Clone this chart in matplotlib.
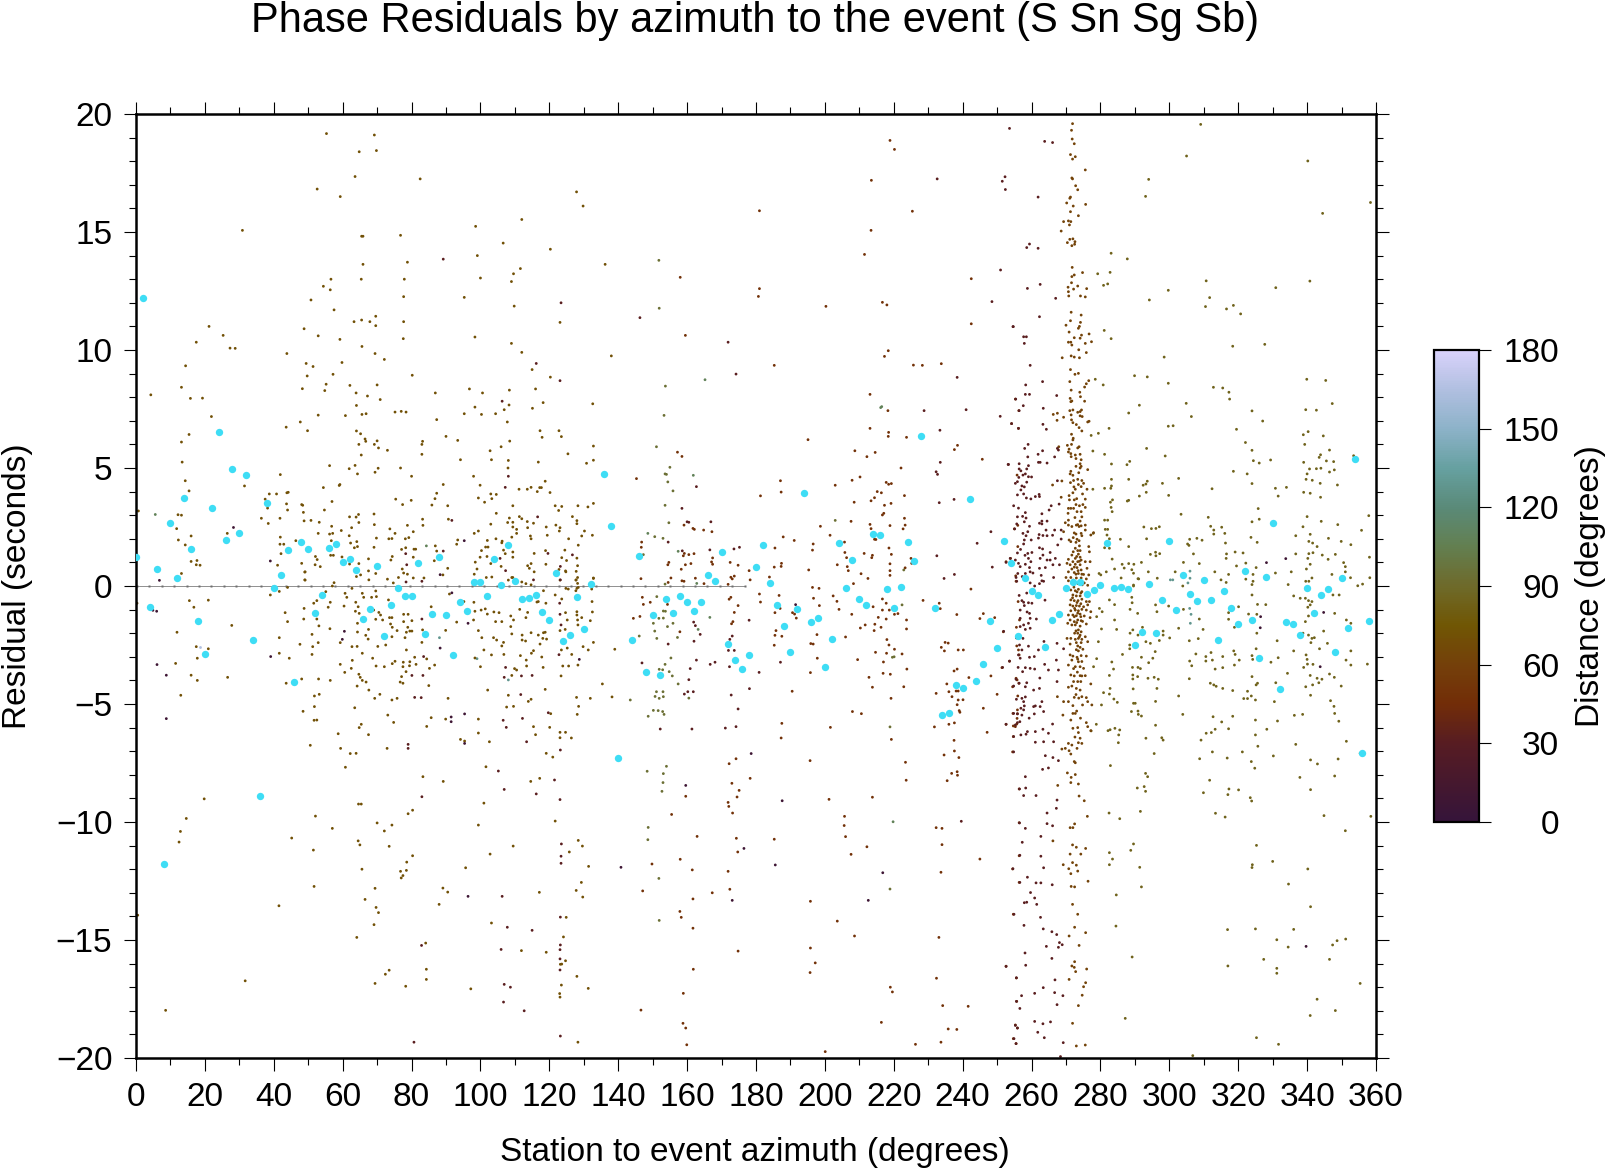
import numpy as np
from matplotlib import pyplot as plt
from matplotlib import colors
from matplotlib.cm import ScalarMappable

plt.rcParams['font.family'] = ['Liberation Sans', 'DejaVu Sans']

# cyan points, one per 2 degree azimuth bin
bin_az = [0,2,4,6,8,10,12,14,16,18,20,22,24,26,28,30,32,34,36,38,40,42,44,46,48,50,52,54,56,58,
    60,62,64,66,68,70,72,74,76,78,80,82,84,86,88,90,92,94,96,98,100,102,104,106,108,110,112,114,116,118,
    120,122,124,126,128,130,132,136,138,140,144,146,148,150,152,154,156,158,160,162,164,166,168,170,172,174,176,178,
    180,182,184,186,188,190,192,194,196,198,200,202,204,206,208,210,212,214,216,218,220,222,224,226,228,232,234,236,238,
    240,242,244,246,248,250,252,254,256,258,260,262,264,266,268,270,272,274,276,278,280,282,284,286,288,290,292,294,296,298,
    300,302,304,306,308,310,312,314,316,318,320,322,324,326,328,330,332,334,336,338,340,342,344,346,348,350,352,354,356,358]
bin_res = [1.24,12.19,-0.9,0.71,-11.79,2.68,0.35,3.74,1.58,-1.47,-2.9,3.3,6.51,1.93,4.96,2.26,4.72,-2.29,-8.88,3.51,-0.1,0.46,1.51,-4.05,1.85,1.55,-1.13,-0.37,1.6,1.77,
    1.0,1.13,0.69,-1.38,-0.99,0.85,-2.13,-0.82,-0.1,-0.42,-0.41,0.99,-2.02,-1.2,1.24,-1.21,-2.94,-0.66,-1.07,0.18,0.15,-0.44,1.14,0.04,1.75,0.2,-0.54,-0.52,-0.37,-1.12,
    -1.43,0.56,-2.33,-2.09,-0.45,-1.84,0.07,4.76,2.53,-7.3,-2.29,1.27,-3.63,-1.23,-3.76,-0.56,-1.13,-0.44,-0.68,-1.05,-0.68,0.48,0.23,1.43,-2.47,-3.12,-3.5,-2.91,
    0.79,1.72,0.14,-0.79,-1.71,-2.81,-0.99,3.95,-1.51,-1.37,-3.45,-2.23,1.84,-0.07,1.12,-0.55,-0.81,2.2,2.18,-0.14,-0.92,-0.06,1.85,1.07,6.34,-0.92,-5.45,-5.4,-4.18,
    -4.31,3.67,-4.04,-3.31,-1.5,-2.61,1.89,0.97,-2.13,0.35,-0.2,-0.37,-2.58,-1.43,-1.17,-0.08,0.16,0.17,-0.35,-0.17,0.03,1.81,-0.1,-0.04,-0.11,-2.51,-1.95,0.07,-1.98,-0.58,
    1.92,-1.03,0.48,-0.32,-0.65,0.24,-0.58,-2.27,-0.23,-0.95,-1.62,0.62,-1.42,-3.04,0.4,2.68,-4.38,-1.51,-1.6,-2.06,-0.1,-1.13,-0.37,-0.11,-2.81,0.32,-1.79,5.37,-7.09,-1.47]

# single picks (azimuth, residual), grouped by roughly the same distance
pts_purple = [(28.3,2.48),(6.8,0.24),(4.9,-1.03),(6,-1.07),(6.1,-3.33),(8.8,-3.78),(8.8,-5.62),(39,1.06),(39.1,-2.99),(60.5,-1.92),(59.9,-2.26),(88.3,0.48),(91.7,-0.29),(88.3,-2.63),(91.5,-5.55),(91.5,-5.75),(95.4,-5.42),(95.4,-6.67),(95.3,1.92),(96.4,-1.58),(96.4,-13.15),(128.7,-3.11),(191.5,-0.79),(140.8,-11.92),(159.6,-8.45),(173.1,-13.32),(176.5,-11.12),(178.6,-7.1),(185.6,-11.82),(187.6,-9.1),(212.6,-13.32),(216.8,-12.15),(333.8,1.16),(328.2,0.99),(326.5,-1.3),(326.4,-1.77),(344.8,-1.12),(343.8,-3.42),(339.7,-15.27)]

pts_red = [(89.2,13.85),(123.4,12),(116.2,9.43),(123.1,8.7),(106.3,7.83),(108.1,4.65),(107.2,4.18),(91.7,2.78),(116.6,2.93),(80.9,-4.72),(82.8,-4.73),(79,-6.71),(79,-6.88),(105.2,-7.84),(83,-8.93),(106.9,-8.62),(116.2,-8.81),(121.5,-8.22),(123.1,-9.05),(123.5,-10.93),(123.4,-11.45),(123.4,-11.75),(106.3,-13.15),(107.8,-14.46),(115,-14.59),(123.2,-14.03),(82.9,-15.23),(123.2,-15.21),(123.1,-15.41),(106,-15.4),(123.1,-15.8),(123.1,-16.27),(106.9,-16.88),(108.7,-17),(106.7,-17.63),(112.7,-18),(123.2,-19.07),(80.7,-19.33),(123.2,-6.95),(105.7,1.17),(107.3,0.65),(89.2,1.48),(83,0.2),(78.4,0.17),(78.3,1.37),(78.6,0.9),(119.6,1.38),(126.7,1.32),(123.2,0.83),(123.2,0.26),(115.4,0.26),(83,-1.4),(83.5,-2.99),(83.3,-3.79),(80.1,-3.79),(107.3,-3.45),(106.9,-3.87),(111.9,-3.81),(111.7,-4.6),(115,-3.79),(106.6,-5.69),(107.5,-5.99),(112.2,-5.61),(113.4,-6.6),(119.7,-5.37),(123,-0.73),(123.1,-1.2),(123.4,-1.65),(122.8,-2.91),
    (253.6,19.39),(232.6,17.25),(252.3,17.34),(251.5,17.15),(252.4,16.8),(251,13.39),(248.5,12.05),(254.6,10.99),(146.3,11.37),(171.9,10.33),(174.2,8.98),(238.4,8.84),(228.8,7.43),(241,7.47),(250.9,7.19),(233.4,6.6),(233.5,5.24),(232.3,4.84),(232.7,4.73),(253.2,5.15),(162.7,4.21),(237.5,3.67),(233.2,3.53),(158.5,3.29),(160,2.72),(160.5,2.7),(166.9,2.72),(248.2,2.3),(154.5,1.86),(244.2,1.81),(175.2,1.64),(173.6,1.57),(166.6,1.53),(158.6,1.49),(232.5,1.28),(237.6,0.49),(234.6,0.32),(248.6,0.8),(146.9,-3.26),(154.5,-2.46),(152.2,-6.06),(161.4,-6.06),(171.1,-6.02),(174.2,-5.96),(174.8,-5.21),(172.8,-4.62),(178.1,-4.35),(161.8,-4.48),(159.2,-4.58),(160.2,-4.48),(160.5,-3.97),(160.9,-3.5),(162.7,-3.14),(166.7,-3.32),(168.1,-3.23),(172.3,-3.42),(173.7,-2.73),(172,-2.73),(173.1,-2.12),(172.4,-2.26),(162,-2.34),(163.8,-2.05),(162.4,-1.68),(161.9,-1.53),(178,-1.45),(187.1,-3.23),(180.9,-3.66),(239.6,-9.97),
    (263.8,18.84),(266.1,18.79),(261.9,16.48),(258.6,14.34),(259.4,14.49),(261.9,14.31),(262.5,12.78),(258.8,12.61),(267,12.19),(262.3,11.41),(254.7,10.99),(257.7,10.56),(258.5,10.56),(257.9,10.28),(259.6,9.35),(263.2,8.66),(258.3,8.52),(258.2,8.12),(259.4,8.12),(255.4,7.92),(267.3,8.07),(257.6,7.64),(256.4,7.43),(263.4,7.53),(254.2,6.88),(256.2,6.68),(263.3,6.85),(264.3,6.64),(259,6),(258,5.83),(263.2,5.73),(261.9,5.58),(258.9,5.47),(253.3,5.15),(256.4,5.18),(262,5.24),(262.5,5.24),(264.5,5.21),(266.7,5.47),(267.5,5.83),(267.8,5.76),(259.1,5.1),(256.4,4.96),(256.9,4.88),(258.6,4.96),(258.2,4.75),(257.5,4.7),(259.1,4.63),(260,4.62),(255.3,4.35),(255.9,4.42),(257.2,4.24),(258.6,4.4),(267.5,4.46),(256.9,4.07),(255.9,3.86),(257.7,3.9),(258.5,3.73),(259.8,3.69),(261.1,3.79),(262.2,3.88),(262.3,3.79),(254.8,3.4),(265.7,3.4),(265.1,3.22),(268,3.47),(258.2,3.11),(263,3.06),(255.9,2.93),(258.4,2.88),(257.9,2.72),(263,2.75),(262.3,2.66),(264.5,2.75),(255.7,2.63),(259.4,2.53),(255.1,2.42),(263,2.63),(264.2,2.37),(266.7,2.37),(268.6,2.37),(257.5,2.23),(259.9,1.95),(258.4,2.13),(262.2,2.18),(263.3,2.14),(264.5,2.13),(266.1,2.15),(257.9,1.95),(257.7,1.78),(262,2.03),(268.6,1.99),(267.6,1.74),(262.3,1.62),(263.2,1.57),(260.1,1.42),(258.9,1.38),(265.4,1.42),(263.3,1.31),(253.8,1.17),(252.6,1),(255.3,1.1),(256.2,0.96),(259.1,1.17),(259.8,1.03),(258.2,0.92),(266.9,1.17),(265.4,1.1),(264.5,1.1),(262.5,1.17),(256.7,0.82),(259.4,0.78),(262.3,0.75),(264,0.78),(266.2,0.9),(268.1,0.9),(256,0.53),(259.6,0.6),(258.2,0.53),(266.4,0.36),(255.5,0.36),(255.7,0.2),(259.6,0.13),(263,0.22),(263.5,0.2),(260.9,0),(262.3,0.1),
    (257.2,-0.62),(257.7,-0.69),(259.1,-0.71),(260.1,-0.73),(256.7,-1.02),(257.9,-0.83),(259.4,-1.16),(259.6,-1.37),(256.7,-1.37),(259.1,-1.58),(257.7,-1.65),(256.7,-1.72),(251.9,-1.92),(258.2,-1.84),(259.6,-1.79),(257.5,-2.22),(256.5,-2.5),(257.2,-2.71),(256.2,-2.92),(256.7,-3.06),(253.6,-3.18),(251.6,-3.45),(259.4,-3.02),(260.8,-2.99),(262,-2.71),(267.2,-3.14),(269.3,-2.66),(267.4,-2.43),(258.2,-3.46),(259.6,-3.49),(260.9,-3.52),(257.4,-3.63),(263.8,-3.32),(264.9,-3.56),(267.8,-3.56),(255.5,-3.95),(256.4,-4.12),(258.6,-4.1),(254.8,-4.24),(258.2,-4.27),(262.3,-4.34),(267.4,-4.05),(260.6,-4.41),(257.2,-4.76),(257.7,-4.9),(257.9,-5.08),(256.9,-5.18),(263,-4.9),(262.5,-5.11),(260.6,-5.11),(261.1,-5.08),(254.8,-5.4),(255.9,-5.42),(257.2,-5.47),(257.7,-5.25),(260.8,-5.42),(263.5,-5.32),(252.6,-5.86),(255.3,-5.89),(255.9,-5.79),(254.8,-6.38),(256.9,-6.31),(258.8,-6.17),(258.4,-6.28),(261.1,-6.17),(263.3,-6.07),(266.1,-5.85),(264.9,-6.24),(266.4,-6.6),(261.1,-6.62),(263.5,-6.6),(254.8,-7.03),(264,-7.19),(266.2,-7.27),(267.8,-7.4),(263.2,-7.77),(264.9,-7.71),(258.2,-8.08),(256.5,-8.6),(258.3,-8.56),(257.7,-8.88),(261.3,-8.88),(267.4,-9.07),(267.2,-9.42),(264.5,-9.62),(256.5,-10.04),(258.2,-10.27),(264.5,-10.07),(266.1,-10.16),(262.7,-10.61),(257.3,-10.86),(256.6,-11.41),(262.7,-11.45),(254.6,-11.98),(263.5,-11.94),(258.8,-12.34),(256.6,-12.56),(261.3,-12.58),(262.7,-12.58),(266,-12.66),(259.7,-12.99),(260.9,-13.22),(257.9,-13.42),(258.6,-13.4),(261.5,-13.49),(254.9,-13.91),(262.6,-14.04),(257.8,-14.38),(263.4,-14.53),(265.9,-14.65),(267.3,-14.77),(268.1,-15.11),(264.3,-15.27),(267.8,-15.31),(268.9,-15.2),(258.1,-15.55),(265.9,-15.78),(252.6,-16.12),(258.3,-16.07),(255.6,-16.6),(266.8,-16.69),(263.4,-17.02),(260.9,-17.26),(257.1,-17.36),(266.7,-17.23),(269.1,-17.36),(255.6,-17.6),(256.6,-17.9),(267.4,-17.74),(260.9,-18.45),(263.3,-18.55),(265.5,-18.47),(255.3,-18.62),(255.9,-18.73),(261.8,-18.91),(254.9,-19.18),(263.7,-19.14),(255.5,-19.39),(269.2,-19.35),(268.4,-19.94),
    (256.3,4.6),(257.9,4.2),(256.2,3.3),(257.4,2.95),(258.9,2.3),(256.8,1.55),(258.1,1.3),(255.9,1.4),(257.3,0.4),(260.4,0.55),(258.6,-0.3),(256.4,-0.4),(258.7,-1.1),(255.6,-2.2),(256.1,-3.45),(259.1,-2.55),(258.2,-4.7),(255.6,-4.8),(256.6,-5.75),(259.3,-5.6),(262.4,-3.9),(263.6,-2.35),(261.4,-1.4),(263.9,-0.6),(262.8,0.45)]

pts_rust = [(218.9,18.88),(220.2,18.5),(213.5,17.19),(181,15.9),(225.4,15.88),(213.4,15.07),(211.5,14.05),(158,13.08),(242.5,13.02),(181,12.6),(180.7,12.27),(200.3,11.85),(216.7,12.02),(218,11.91),(242.5,11.11),(159.5,10.62),(218.4,9.97),(217.3,9.73),(185.3,9.35),(225.7,9.36),(228.3,9.35),(233.8,9.42),(213.1,8.12),(218.3,7.43),(255.3,7.92),(256.3,7.43),(254.2,6.88),(256.2,6.68),(213.1,6.68),(218.5,6.51),(218.4,6.34),(223.7,6.3),(238.5,5.96),(237.6,5.78),(195.1,6.2),(157.2,5.67),(158.5,5.49),(208.7,5.73),(214.6,5.66),(212.2,5.48),(245.7,5.37),(222.1,5),(255.8,4.7),(210.2,4.62),(207.9,4.48),(187.1,4.46),(145.3,4.55),(217.8,4.39),(219.3,4.34),(218.5,4.31),(187.3,3.98),(203,4.27),(215.2,4),(216.4,3.95),(223.1,3.83),(181.3,3.82),(214.4,3.74),(213.4,3.61),(208.5,3.55),(219.2,3.5),(217.3,3.42),(217.1,3.08),(216.7,3.01),(223.1,2.87),(207.6,2.74),(159.1,2.58),(213.1,2.61),(223.3,2.58),(198.7,2.53),(161.7,2.44),(162.1,2.4),(164.8,2.37),(167.2,2.3),(213.4,2.43),(218.9,2.56),(222.7,2.42),(255,2.42),(256,2.57),(146.8,1.86),(201.5,2.15),(187.9,2.08),(191.1,1.93),(214.4,1.98),(214.8,1.97),(205.7,1.86),(196.6,1.78),(146.7,1.64),(185.5,1.61),(218.6,1.61),(196.4,1.52),(159.2,1.38),(160.5,1.33),(162,1.37),(158.9,1.28),(205.8,1.42),(211.4,1.38),(213.8,1.3),(213.6,1.2),(219.3,1.34),(206.3,1.2),(167.4,1.19),(154.7,1),(154.4,0.9),(159.5,0.9),(161.1,0.95),(167.1,1.02),(167.4,0.92),(172.5,1),(174.8,0.88),(187.4,0.96),(187.3,0.83),(185.3,0.8),(203.6,0.9),(206.5,0.82),(206.8,0.65),(218.9,0.94),(225,1.17),(225.2,0.96),(223.3,0.77),(218.9,0.65),(218.9,0.45),(252.6,1.03),(253.9,1.17),(255.4,0.43),(255.5,0.2),(256,1.67),(158.3,0.71),(162.4,0.33),(155.3,0.34),(146.6,0.31),(154.5,0.15),(158.5,0.22),(159.1,0.2),(164.9,0.1),(171.9,0.07),(173.1,0.3),(173.7,0.42),(172.7,0.37),(178.3,0.26),(178,0.65),(183.9,0.38),(195.3,0.68),(210.5,0.52),(212.5,0.32),(208.3,0.1),(242.4,-0.13),
    (147,-0.48),(147.3,-0.78),(146.3,-1.29),(144.4,-1.37),(149.3,-0.69),(154.3,-0.78),(157.9,-1.94),(173.3,-1.51),(172.9,-1.6),(173.7,-1.12),(174.8,-0.83),(172.2,-0.56),(172.7,-0.48),(181,-0.34),(181.3,-0.68),(186.7,-0.4),(185.5,-1.13),(187,-0.95),(190.6,-1.13),(191.2,-1.19),(191.7,-1.36),(185.8,-1.89),(185.5,-2.09),(187.5,-2.13),(185.3,-2.51),(190.5,-4.46),(187.5,-5.82),(187.3,-6.44),(195.9,-2.44),(196.6,-2.46),(197.7,-2.06),(198.4,-0.83),(196.7,-0.52),(196.4,-0.06),(198.3,-0.1),(202.4,-0.42),(203.5,-0.65),(204.1,-0.99),(207.8,-1.2),(206,-2.16),(210.3,-1.78),(211.7,-1.65),(214.3,-1.89),(214.5,-1.62),(216.3,-1.75),(215.5,-1.33),(217.8,-1.4),(218.7,-1.02),(216.7,-1.02),(214,-0.88),(216.7,-0.55),(217.8,-0.73),(220.2,-1.2),(221.2,-1.17),(223.7,-1.44),(223.7,-1.82),(218,-2.27),(218.6,-2.5),(220.2,-2.68),(214.7,-2.81),(217.9,-2.85),(222.4,-2.88),(209.5,-3.12),(217,-3.22),(223.8,-3.52),(212.8,-3.87),(216.9,-3.7),(219,-3.74),(213.8,-4.29),(222.9,-4.27),(219.2,-4.76),(208,-5.32),(210.6,-5.41),(201.6,-5.99),(219.3,-6.5),(195.7,-7.4),(197.8,-3.06),(195.8,-3.67),(223.4,-7.47),(223.6,-8.23),(201.2,-9.04),(213.8,-8.95),(205.7,-9.76),(205.6,-10.15),(206,-10.62),(212.2,-11.05),(207.6,-11.37),(195.8,-13.36),(203.6,-14.2),(208.6,-14.83),(195.8,-15.34),(197.2,-15.97),(195.7,-16.38),(219,-17),(219.6,-17.2),(216.4,-18.49),(200.1,-19.73),(226.3,-19.42),
    (159.6,-8.91),(155.5,-9.68),(162.9,-10.61),(158,-11.58),(149.8,-11.78),(161.5,-12.03),(147.1,-12.92),(161.7,-13.26),(157.9,-13.79),(158.3,-14.04),(161.7,-14.5),(161.8,-16.24),(158.9,-17.26),(146.6,-17.97),(158.8,-18.53),(159.6,-18.73),(159.9,-19.44),(174.8,-15.47),(167.3,-13),(172.4,-12.85),(171.9,-12.09),(174.7,-11.27),(174.3,-10.69),(173.2,-9.62),(172.1,-9.34),(171.9,-9.17),(174.5,-8.94),(175.1,-8.66),(173,-8.36),(178.3,-8.15),(172.2,-7.53),(174.2,-7.32),(185.3,-10.73),(232.3,-10.24),(234,-10.27),(234,-10.96),(233.7,-12.13),(233.1,-14.89),(245,-11.57),(254.5,-11.99),(256.4,-11.43),(256.4,-10.03),(256.4,-12.56),(254.7,-13.91),(252.6,-16.11),(232.4,-16.62),(255.6,-16.61),(234.2,-17.78),(241.6,-17.81),(255.7,-17.6),(235.8,-18.77),(238.3,-18.79),(233.7,-19.33),(255.3,-18.6),(255.9,-18.73),(254.7,-19.18),(255.5,-19.39),
    (233.8,-2.6),(234.7,-2.75),(234.9,-2.39),(235.8,-2.42),(238.7,-2.71),(240.2,-2.71),(237.5,-3.6),(238.4,-3.52),(241.8,-3.88),(235.4,-4.15),(232.3,-4.55),(236,-4.48),(238.1,-4.45),(238.7,-4.45),(236.9,-4.69),(238.7,-4.83),(240.1,-4.82),(238.4,-5.03),(239,-5.28),(239.2,-5.35),(231.8,-5.97),(236,-5.86),(237.6,-5.8),(246,-5.18),(250,-4.59),(248.2,-3.81),(253.6,-3.19),(251.4,-3.46),(247.1,-6.2),(252.6,-5.86),(254.6,-5.4),(255.9,-5.25),(255.9,-5.41),(255.8,-5.61),(254.7,-5.93),(255.3,-5.96),(254.7,-6.38),(254.5,-7.03),(255.7,-5.85),(237.5,-6.54),(237.6,-6.99),(238.9,-7.27),(234.6,-7.16),(236.8,-7.94),(238.4,-7.87),(238.5,-8.02),(235.5,-8.25),(256.4,-8.6),(238.3,-1.21),(245,-1.38),(246,-1.17),(249.3,-1.34),(251.8,-1.94),(228.5,-0.61),(233.2,-0.73),(233.5,-0.96),(254.5,-4.27),(255.5,-3.91),(255.8,-3.98),(256.3,-4.12),(256,-4.66),(255.6,-1.75),(256.5,-1.44),(256.1,-0.66),(255.7,-2.54),(256.2,-2.71),(256.4,-2.92)]

pts_brown = [(271.9,19.59),(271.6,19.31),(271.8,18.94),(272.4,18.74),(271.3,18.28),(272.7,18.19),(271.9,18.09),(275.6,17.63),(271.7,17.29),(271.9,17.25),(272.8,16.96),(273.4,16.79),(271.3,16.48),(271.1,16.43),(270.2,16.23),(272.1,16.1),(275.7,16.17),(271.3,15.86),(273.6,15.69),(269.3,15.44),(270.7,15.47),(271.4,15.44),(271,15.3),(268.6,15.04),(271.1,14.69),(272,14.71),(272.6,14.59),(270.4,14.55),(271.7,14.42),(272.5,14.48),(271.8,13.5),(274.8,13.28),(272.4,13.18),(271.7,13.11),(271.6,12.85),(270.6,12.66),(273.4,12.71),(272.2,12.58),(276,12.6),(270.7,12.47),(274.2,12.29),(270.8,12.29),(275.6,12.25),(271.5,11.6),(274.4,11.48),(271.3,11.24),(274.2,11.17),(273.9,11),(273.6,10.92),(270,11.05),(270.9,10.76),(276.7,10.68),(274.1,10.5),(274.5,10.63),(272.4,10.52),(270.7,10.33),(275.6,10.28),(277.4,10.35),(271.7,10.21),(271.4,10.33),(273.7,10.01),(275.9,9.89),(268.9,9.67),(271.5,9.75),(272.4,9.7),(273.9,9.67),(271.3,9.17),(273.6,9.01),(272.6,8.97),(271.1,8.66),(276.6,8.7),(275.9,8.57),(275.4,8.43),(271.5,8.3),(274,8.21),(274.2,8.02),(271.2,7.95),(271.7,7.84),(275.4,7.83),(271.4,7.81),(271.1,7.43),(273.4,7.36),(274.1,7.39),(274.5,7.46),(266.3,7.27),(267.5,7.32),(269.3,7.15),(267.4,7.02),(271.5,7.25),(272,7.46),(274.1,7.21),(274.7,7.18),(271.6,7.04),(272,6.92),(273,6.84),(273.8,6.71),(276.3,6.95),(276.7,6.98),(274.6,6.57),(271.6,6.43),(272.1,6.26),(272,6.19),(271.6,6),(270.4,5.96),(273.8,5.9),(273.4,5.85),(270.9,5.8),(267.9,5.9),(270.7,5.68),(271.4,5.61),(274.1,5.58),(272.7,5.55),(274.4,5.35),(274.1,5.18),(271.5,5.48),(272.9,5.07),(274.4,5.07),(271.4,4.86),(276.3,4.93),(274.1,5),(271.2,4.75),(272,4.69),(273.4,4.52),(274.6,4.47),(272.2,4.47),(271.3,4.38),(268.8,4.45),(266.1,4.28),(275.1,4.35),(272.7,4.1),(276.1,4.1),(274.4,4.21),(273.6,4.3),(272,3.95),(274.8,3.9),(270.9,3.83),(268.6,3.76),(271,3.65),(272.4,3.65),(275.6,3.68),(274.9,3.45),(270.7,3.29),(271.4,3.29),(270.6,3.08),(272.2,3.29),(273.2,3.15),(274.4,3.15),(275.6,3.33),(270.7,2.79),(274.6,2.93),(269.8,2.68),(271.7,2.52),(273,2.58),(273.8,2.52),(274.4,2.55),(270.7,2.58),(269.3,2.3),(272.4,2.25),(275.6,2.58),(275.6,2.37),(274.4,2.23),(273.2,1.98),(270.9,1.95),(271.4,1.88),(273.8,1.92),(274.6,2.13),(277.2,2.16),(278,2.26),
    (272.7,1.6),(273.4,1.5),(274.1,1.5),(276.6,1.67),(276.8,1.45),(271.7,1.31),(273.6,1.35),(272.7,1.17),(274.1,1.22),(270.7,1.13),(272,1.03),(273.4,1.03),(274.4,1.1),(275.6,1.03),(277,1.03),(271.2,0.9),(272.7,0.92),(274.1,0.9),(270.3,0.96),(273.2,0.78),(271.7,0.72),(274.4,0.68),(276.1,0.75),(270.7,0.6),(272.4,0.57),(273.6,0.53),(275.1,0.49),(276.6,0.47),(271.4,0.36),(273,0.34),(274.4,0.34),(275.9,0.3),(270,0.36),(270.7,0.22),(273.8,0.2),(272.7,0.13),(275.3,0.13),(271.7,0.11),(276.3,0.03),
    (271.4,-0.17),(272.7,-0.2),(273.6,-0.14),(274.6,-0.24),(272,-0.38),(273,-0.42),(274.1,-0.42),(271.4,-0.59),(272.4,-0.62),(273.5,-0.62),(274.6,-0.56),(275.9,-0.66),(276.8,-0.66),(271.2,-0.8),(272,-0.85),(273,-0.83),(273.9,-0.85),(275.1,-0.88),(276.3,-0.8),(271.4,-1.05),(272.7,-1.02),(273.6,-1.05),(274.6,-0.99),(275.9,-1.02),(277.2,-1.09),(270.7,-1.23),(272,-1.23),(273,-1.26),(274.1,-1.19),(275.3,-1.27),(277,-1.34),(271.2,-1.44),(272.4,-1.51),(273.4,-1.44),(274.4,-1.47),(275.9,-1.61),(270.5,-1.58),(271.7,-1.65),(272.7,-1.65),(273.6,-1.86),(274.4,-1.94),(273.4,-2),(274.1,-2.08),(270.3,-2.22),(271.4,-2.22),(272.7,-2.26),(273.6,-2.22),(274.6,-2.26),(275.6,-2.15),(273.4,-2.54),(274.1,-2.6),(274.9,-2.68),(273.6,-2.75),(271.2,-2.46),(276.3,-2.36),(271.2,-2.92),(272,-2.97),(273.2,-3.02),(275.9,-2.97),(273.6,-3.21),(271.7,-3.14),(270.7,-3.35),(272.7,-3.42),(274.1,-3.42),(275.1,-3.49),(271.4,-3.77),(272.4,-3.81),(274.6,-3.81),(275.6,-3.8),(272.2,-4.05),(273.4,-4.05),(274.3,-4.05),(270.7,-4.29),(271.7,-4.24),(273,-4.34),(274.1,-4.41),(277.2,-4.15),(272.4,-4.72),(274.6,-4.69),(275.9,-4.73),(267.5,-4.69),(269.3,-4.9),(270.7,-4.9),(276.3,-4.9),(272,-5.07),(277.5,-5.04),(274.8,-5.04),(269.1,-5.47),(272,-5.4),(272.7,-5.4),(271.4,-5.68),(275.9,-5.79),(276.3,-5.96),(272,-6.03),(277.2,-6.13),(273.6,-6.21),(274.1,-6.45),(270.7,-6.67),(271.7,-6.74),(273.6,-6.64),(274.6,-6.67),(268.8,-6.91),(270.9,-6.98),(273.2,-6.88),(269.8,-6.88),(271.4,-7.12),(272.4,-7.44),(272.7,-7.49),(270.4,-7.92),(272.7,-7.99),(271.5,-8.11),(271.4,-8.33),(273.6,-8.39),(267.6,-8.45),(273.8,-8.9),(275.3,-9.1),(276.2,-9.76),(271.2,-10.24),(272,-10.24),(272.5,-10.08),(266.2,-10.8),(271.9,-10.97),(273,-11.07),(274.3,-11.36),(275.7,-11.12),(271.2,-11.36),(271.9,-11.72),(269.2,-11.81),(273,-11.83),(270.8,-11.98),(273.4,-12.08),(271.4,-12.19),(276.4,-12.51),(271.5,-12.73),(272.5,-12.75),(271.9,-13.49),(273.4,-13.91),(272.5,-14.46),(270.9,-14.83),(275.7,-14.69),(273.8,-15.23),(272.5,-15.92),(271.7,-16.1),(272.4,-16.16),(272.8,-16.34),(276,-16.23),(270.9,-16.67),(275.7,-16.81),(275.1,-16.98),(274.7,-17.34),(273.6,-17.78),(271.9,-18.53),(273,-19.49),(275.6,-19.45),
    (272.9,5.4),(273.7,4.8),(272.3,4.2),(273.1,3.7),(273.9,3.4),(272.6,2.9),(273.4,2.6),(272.1,2.05),(272.9,1.85),(273.9,1.7),(272.1,1.45),(273.1,1.25),(273.9,1.05),(272.4,0.8),(273.5,0.65),(274.6,0.5),(272.9,0.5),(272.1,0.25),(273.5,0.1),(274.7,0.05),(272.3,-0.05),(273.2,-0.25),(274.3,-0.3),(271.9,-0.5),(273.2,-0.7),(274.3,-0.75),(272.5,-0.95),(273.4,-1.15),(274.3,-1.3),(272.4,-1.3),(273.1,-1.55),(274.1,-1.7),(272.9,-1.9),(273.9,-2.15),(273,-2.4),(274.4,-2.4),(273,-2.7),(274.4,-2.95),(273.4,-3.1),(274.6,-3.2),(273.3,-3.65),(274.1,-3.8),(272.9,-4.6),(273.7,-4.75),(273.1,-5.3),(274.2,-5.6),(273.4,-6),(272.6,-6.4),(272.9,2.2),(274.1,2.75),(272.9,3.45),(272.5,-2),(274.8,-1.5),(272.2,-3.5)]

pts_umber = [(55.3,19.17),(69.2,19.11),(64.8,18.4),(69.8,18.45),(63.6,17.35),(82.5,17.25),(52.6,16.82),(59.3,16.5),(127.9,16.7),(129.8,16.1),(30.9,15.07),(112,15.53),(98.6,15.24),(65.5,14.82),(65.9,14.82),(76.8,14.86),(106.6,14.53),(120.3,14.27),(99.1,14),(78.8,13.72),(65.9,13.63),(136.2,13.63),(111.6,13.45),(109.6,13.23),(100,13.05),(65.4,13),(56.6,13),(77.9,13),(109,12.9),(54.4,12.7),(56.4,12.55),(77.7,12.26),(95.3,12.23),(50.8,12.12),(109.8,11.86),(57.5,11.7),(69.6,11.43),(63.3,11.2),(65.5,11.27),(67.9,11.2),(77.7,11.2),(123.1,11.17),(21.2,11),(69.6,11.03),(48.8,10.9),(25.3,10.62),(52.9,10.6),(59.2,10.45),(77.6,10.48),(98.4,10.55),(17.5,10.33),(109,10.28),(27.3,10.08),(28.8,10.07),(65.6,10.15),(112,9.9),(69.4,9.85),(138,9.75),(43.8,9.85),(72.1,9.6),(49.4,9.43),(59.8,9.47),(14.4,9.33),(51.4,9.3),(115,9.17),(57.2,8.97),(49.7,8.9),(80.2,8.93),(120.3,8.85),(70,8.52),(55.2,8.55),(62.1,8.5),(13.2,8.42),(48.3,8.36),(116,8.35),(96.8,8.35),(108.4,8.3),(54.8,8.28),(63.9,8.18),(86.9,8.18),(100.6,8.18),(4.3,8.1),(67.2,8.05),(15.8,7.95),(19.3,7.96),(70.9,7.9),(118.2,7.77),(132.6,7.72),(108.3,7.67),(64,7.65),(98.4,7.58),(115.1,7.53),(106.9,7.47),(75.2,7.37),(77,7.4),(78.4,7.37),(66.8,7.3),(65.6,7.27),(95.3,7.3),(100.3,7.27),(104.4,7.3),(52.9,7.24),(60.8,7.22),(21.9,7.18),(87.3,7.05),(107.8,6.95),(47.7,6.95),(43.6,6.73),(64,6.57),(49.8,6.58),(117.3,6.58),(122.8,6.58),(65.2,6.45),(90,6.34),(15.4,6.42),(117.9,6.3),(123.5,6.33),(66.5,6.23),(93.4,6.17),(66.7,6.13),(83.2,6.13),(70,6.15),(108.5,6.14),(13.2,6.1),(64.7,6),(83,6),(69.2,6),(70.4,5.85),(106,5.9),(132.8,5.93),(73,5.75),(102.8,5.73),(125.4,5.6),(65.4,5.55),(83,5.58),(94.2,5.35),(103.2,5.35),(108.1,5.32),(13.4,5.25),(116.8,5.25),(130.8,5.2),(132.8,5.33),(56.2,5.1),(63.6,5.11),(61.9,4.97),(70.3,4.99),(76.8,5),(108,5),(64.3,4.75),(69.4,4.82),(41.9,4.72),(80,4.65),(98,4.65),(14.3,4.46),(118.8,4.44),(59.2,4.3),(59,4.26),(99.9,4.27),(31.5,4.24),(89.2,4.3),(54.4,4.17),(111.2,4.1),(113.6,4.1),(114.7,4.18),(117.2,4.17),(117.7,4.17),(15.4,4.03),(116.5,4),(120.2,3.96),(38.7,3.9),(40.8,3.9),(43.8,3.95),(44.2,3.97),(87.3,3.93),(103,3.9),(104.6,3.88),(86.8,3.7),(75.4,3.68),(79.9,3.63),(99.4,3.73),(103.3,3.7),(101.2,3.55),(56.9,3.58),(37.5,3.68),(0.7,3.18),(43.7,3.48),(77.4,3.45),(85.9,3.43),(90.5,3.4),(109.4,3.4),(48.1,3.45),(48.4,3.42),(38.2,3.3),(44,3.22),(54.7,3.22),(121.7,3.4),(123.6,3.37),(122.7,3.2),(128.3,3.4),(131.2,3.35),(132.8,3.5),(104.6,3.08),(48.6,3.12),(69.1,3.05),(12.2,3.02),(13.2,3),(62,2.93),(63.9,2.92),(64.6,3.03),(36.4,2.87),(41.8,2.87),(83.2,2.83),(90.7,2.83),(108.4,2.88),(111.3,2.94),(112,2.85),(126.7,2.94),(128,2.77),(48.8,2.76),(50.8,2.78),(53.2,2.7),(38.4,2.65),(64.7,2.69),(69.2,2.6),(78.8,2.57),(83.3,2.57),(103,2.62),(107.9,2.69),(109.4,2.7),(113.6,2.73),(115.4,2.66),(128,2.64),(56.8,2.53),(62.6,2.47),(11.8,2.43),(109.4,2.5),(113.7,2.47),(119.1,2.5),(121.9,2.58),(123.1,2.47),(73.7,2.42),(59.6,2.35),(80.5,2.3),(99.4,2.33),(110.5,2.4),(130.2,2.33),(122.9,2.33),(26.5,2.23),(52.9,2.23),(56.2,2.2),(57.1,2.23),(75.2,2.23),(98.2,2.23),(110.5,2.23),(61.9,2.13),(16,2.12),(114.5,2.12),(119.4,2.15),(129.4,2.12),(132.5,2.15),(41.9,2.07),(69.8,2.03),(79.2,2.05),(73.4,2),(74.3,2.01),(78.2,2),(102,1.93),(104.5,2),(106.3,1.9),(109.1,2.07),(114.7,2),(125.6,2),(12.3,1.95),(46.4,1.92),(56.7,1.92),(64.1,1.88),(93.4,1.95),
    (13.2,0.53),(16,1.04),(17.7,1.08),(17.5,0.9),(18.6,0.88),(14.3,1.74),(41.1,0.88),(42.1,1.37),(41.8,1.77),(42.9,1.77),(48.1,0.96),(49.1,0.6),(49,0.26),(52.1,1.25),(52.6,1.12),(52,0.9),(53.5,0.82),(56.5,1.3),(57.3,1.3),(59.8,1.23),(62,0.93),(62.3,1.82),(63.4,1.62),(64.3,1.67),(64.7,0.95),(64,0.4),(65.2,0.47),(67.5,0.64),(67.6,0.26),(69.1,1.64),(69.6,0.53),(67.5,1.15),(73,0.29),(74.7,0.13),(74,1.1),(74.4,1.25),(77.3,0.72),(77.1,1.55),(78.3,1.62),(77.7,0.55),(78.8,0.5),(76.2,0.36),(80.5,1.22),(80.7,1.56),(81.2,1.56),(83.6,0.34),(80.5,0.34),(86.6,1.07),(86.9,1.7),(87.3,1.48),(89.1,0.47),(90.5,0.75),(93.1,1.77),(98.2,0.5),(98.5,1.01),(100.3,1.5),(101.5,1.65),(102.2,1.65),(101.9,1.25),(99.9,1.22),(99,0.72),(101.7,0.36),(103.3,0.38),(103,0.95),(106.2,1.83),(106.7,1.52),(107.2,1.37),(109.4,1.44),(109.4,1.22),(106,0.83),(109.4,0.36),(113.7,0.86),(114.7,0.95),(114.2,0.75),(115.6,0.6),(115.6,1.38),(118.9,1.5),(119,0.92),(122.8,0.7),(123.6,1.2),(125,1.08),(124.7,0.64),(124.5,1.52),(128,1.18),(128.2,0.86),(128.4,1.73),(127.8,0.62),(128.2,0.36),(127.8,0.26),(132.8,0.34),(112,0.17),(113.2,0.1),(114.7,0.05),(108.1,0.25),(109.1,0.36),
    (0.3,-0.73),(15.5,-0.62),(16.8,-0.9),(21,-0.6),(27.8,-1.67),(11.9,-1.96),(17.5,-2.57),(21,-2.66),(17.8,-3.06),(11.5,-3.28),(16,-3.78),(17.8,-4),(26.6,-3.87),(13,-4.63),(19.8,-9.02),(14.6,-9.85),(12.9,-10.4),(12.5,-10.85),(31.7,-16.73),(8.6,-17.98),(0.5,-13.95),(45.2,-10.68),(41.5,-13.55),(52.1,-9.75),(51.5,-11.19),(51.7,-12.73),(57,-10.27),(48.5,-5.31),(51.8,-5.11),(51.7,-5.69),(52.5,-5.68),(50.6,-6.75),(53.2,-4.59),(51.8,-4.66),(43.6,-4.12),(53,-3.94),(48.1,-3.94),(56.4,-4),(44.5,-3.06),(41.6,-2.85),(41.6,-2.19),(44,-1.51),(43.3,-1.13),(47.6,-2.47),(51.1,-2.9),(51.3,-2.57),(52.9,-2.4),(51.1,-2.05),(53.1,-1.69),(48.7,-1.4),(52.5,-1.4),(48.8,-0.95),(51.6,-0.73),(52.5,-0.62),(55.8,-0.9),(56.4,-0.69),(55.1,-0.24),(57,0),(56.3,-1.81),(39,-0.38),(41.6,-0.23),(44,-0.06),(49.1,0.25),(49,0.59),(57.5,0.14),(60.4,-0.85),(59.3,-2.4),(62.7,-2.57),(64.2,-2.56),(65.7,-2.85),(62.8,-3.15),(59.3,-3.32),(62.5,-3.49),(60.6,-3.66),(64.7,-3.74),(65.1,-3.87),(65.7,-4),(66.8,-4.07),(64.2,-4.24),(67.6,-4.41),(63.5,-5.16),(69.3,-4.76),(70.8,-4.59),(74.3,-4.83),(75.8,-4.76),(73.1,-5.47),(74.8,-5.78),(65.4,-5.86),(64.8,-6),(67.5,-6.3),(58.7,-6.26),(59.4,-6.88),(62.2,-7.1),(63.9,-7.09),(60.8,-7.68),(72.9,-6.88),(90.6,-4.76),(85.7,-5.58),(84.4,-5.95),(89.9,-5.64),(99.4,-5.64),(99.4,-6.23),(94.2,-6.5),(95.4,-6.57),(102.6,-6.6),(101.6,-7.66),(83.3,-8.08),(89.2,-8.28),(101,-9.2),(114.6,-8.28),(117.2,-8.15),(64.6,-9.24),(65.4,-9.24),(80.3,-9.5),(79,-9.65),(70,-10.04),(74.3,-10.13),(72.1,-10.38),(99.4,-10.13),(121.7,-9.96),(64.5,-10.8),(65,-10.97),(73.5,-11.03),(80.3,-11.43),(78.6,-11.7),(102.8,-11.36),(109.5,-11.02),(125.8,-11.27),(128.4,-10.78),(129.6,-11.02),(131.4,-11.88),(65.6,-12),(76.8,-12.09),(78.5,-12.05),(77.5,-12.27),(77,-12.37),(95.7,-11.94),(69.4,-12.81),(89.1,-12.8),(90.5,-12.97),(117.1,-12.98),(129.3,-12.56),(127.8,-12.9),(129.7,-13.18),(66.5,-13.28),(69.7,-13.62),(70.4,-13.84),(88,-13.49),(69.1,-14.35),(103.2,-14.28),(124.9,-14.04),(124.1,-14.87),(64.1,-14.89),(84.1,-15.13),(111.9,-15.45),(119.1,-15.52),(124.7,-15.88),(123.6,-16.02),(123.2,-16.03),(84.3,-16.24),(84.3,-16.67),(73.5,-16.28),(72.4,-16.45),(128,-16.54),(69.4,-16.84),(78.3,-16.96),(97.2,-17.07),(123.5,-16.91),(131.3,-17.05),(123,-17.27),(123.1,-17.42),(128.3,-19.33),
    (60.7,-0.31),(61.2,-0.48),(62.7,-0.1),(63.8,-0.69),(64.5,-0.88),(63.7,-1.07),(64.8,-1.16),(66.1,-0.48),(65.7,-0.31),(64.3,-1.58),(67.5,-1.84),(66.7,-2.09),(67.4,-2.25),(64.3,-1.95),(68.4,-0.48),(69.6,-0.21),(69.8,-0.45),(69,-1.02),(70.5,-1.12),(71,-1.23),(71.6,-1.44),(69.6,-1.41),(68.7,-3.06),(70.2,-2.56),(72.5,-2.5),(69.7,-3.39),(72.1,-3.42),(74.4,-3.29),(75.2,-3.19),(73.3,-0.59),(73.6,-1.34),(74.3,-1.34),(73.9,-1.61),(74.4,-1.75),(75.8,-1.89),(74.3,-2.15),(77.7,-1.2),(77.7,-1.51),(79,-1.2),(78.9,-1.75),(78.5,-1.96),(79.5,-1.91),(78.1,-2.19),(78.5,-2.71),(77.6,-3.23),(79.5,-3.21),(80.9,-3.02),(77.5,-3.42),(79.4,-3.38),(81.3,-3.32),(77.1,-3.84),(78.4,-3.63),(76.7,-4.07),(77.5,-4.12),(80.1,-1.47),(80.1,-1.91),(83.2,-1.86),(83,-2.39),(84.4,-3.09),(85,-4.22),(85.2,-3.49),(86.7,-3.35),(85.7,-0.88),(89.9,-1.88),(91,-0.34),(93.1,-1.53),(95.2,-0.66),(98.1,-0.69),(98.4,-1.07),(98,-1.44),(99.4,-1.89),(100.4,-2.19),(101,-2.71),(103.2,-2.92),(98.4,-3.05),(100,-3.42),(102.1,-4.41),(100.2,-1.02),(101.4,-0.97),(102,-1.19),(103.9,-1.1),(105.4,-1.13),(104.4,-1.51),(106.2,-1.51),(103.8,-2.19),(104.7,-2.29),(106.2,-2.54),(106.7,-2.39),(106.8,-2.9),(109.1,-3.79),(110.5,-3.56),(109.9,-3.5),(108.1,-4.63),(109.6,-5.1),(107.6,-5.13),(114.7,-4.8),(113.9,-4.89),(115.4,-5.96),(116,-6.3),(120.1,-5.99),(120.4,-5.41),(118.8,-4.38),(118.2,-3.45),(117.8,-3.01),(114.8,-2.85),(115.4,-2.74),(113.3,-3.14),(113.4,-3.39),(111.6,-2.95),(113.1,-2.33),(112.1,-2.29),(112.1,-2.08),(114.7,-1.98),(116.8,-2.08),(118.1,-2.22),(117.3,-2.46),(119.2,-2.25),(118.3,-1.98),(118.8,-1.96),(109.6,-1.44),(108.8,-1.72),(109.1,-2.03),(108.8,-1.27),(111.4,-0.99),(113.2,-1.34),(113.7,-1.12),(116.4,-0.68),(116.8,-0.66),(119,-0.73),(123.6,-0.55),(124.7,-1.13),(123.1,-1.89),(124.6,-1.84),(125.2,-1.44),(123.5,-2.71),(125.2,-2.63),(126.5,-2.9),(123.9,-3.39),(125.6,-3.39),(128.3,-3.35),(129.8,-2.57),(131.3,-2.71),(132.8,-2.39),(139,-2.68),(123.4,-3.81),(135.4,-4.15),(127.9,-4.72),(131.9,-4.76),(138.2,-4.7),(128.5,-5.1),(128.1,-5.44),(123.1,-6.2),(124.7,-6.2),(123.1,-6.43),(126.4,-6.44),(119.1,-7.09),(121,-7.25),(128,-1.09),(128,-1.23),(128.2,-1.44),(128.3,-1.65),(129.4,-1.34),(131.9,-1.47),(132.5,-1.1),(132.4,-0.66),(132.3,-0.13),(132.8,0.32),(128,-0.1),(127.7,-0.2),(128.2,0.11),(128.4,-0.06),(127.7,0.25),(124.8,-0.1),(125.5,-0.13),(124.8,0.6),(123.1,0.25),(121.7,-0.38),(118.3,-0.2)]

pts_olive = [(309.1,19.56),(305,18.22),(340.2,18.01),(294,17.23),(293.1,16.51),(358.4,16.25),(344.5,15.79),(283.1,14.1),(287.8,13.86),(279.2,13.23),(282.8,13.29),(282.1,12.8),(280.9,12.74),(310.7,12.93),(299.7,12.53),(294.2,12.12),(311.7,12.22),(330.9,12.64),(340.8,12.92),(310.5,11.84),(316.6,11.74),(318.6,11.89),(320.7,11.53),(281.1,10.83),(283.1,10.48),(318.4,10.16),(327.7,10.24),(298.5,9.7),(289.9,8.91),(293.6,8.86),(299.7,8.59),(278.5,8.76),(280.8,8.52),(339.9,8.76),(345.4,8.71),(312.8,8.42),(315.5,8.39),(317.3,8.21),(317.5,7.92),(304.9,7.74),(291.3,7.66),(347.3,7.73),(306.4,7.18),(288.2,7.33),(324,7.42),(339.6,7.47),(342.7,7.45),(327.1,6.99),(299.7,6.77),(301.1,6.79),(319.5,6.64),(282.5,6.68),(279.4,6.47),(277.3,6.38),(338.9,6.41),(340.3,6.54),(344.7,6.36),(322.1,6.08),(339.3,6),(293.4,5.83),(324,5.75),(277.8,5.72),(281.2,5.58),(298.8,5.51),(346.5,5.76),(343.5,5.45),(343.9,5.56),(353.5,5.52),(324.4,5.31),(326.1,5.21),(329.4,5.34),(345.6,5.3),(347.7,5.27),(339,5.24),(283.2,5.17),(287.7,5.14),(288.5,5.28),(318.6,4.86),(322.6,4.75),(340.7,4.96),(342.7,4.97),(344,4.99),(346.5,4.83),(347.9,4.92),(340,4.75),(339.7,4.52),(341.5,4.48),(283.2,4.52),(288.2,4.52),(302.7,4.56),(293.6,4.44),(293.2,4.32),(298,4.35),(324,4.34),(343.8,4.35),(348.8,4.28),(292.4,4.27),(281.2,4.14),(283.2,4.24),(283,4.14),(277.8,4.1),(312.4,4.12),(330.8,4.14),(334,4.18),(339,3.97),(340.9,3.93),(293.3,3.97),(291.3,3.81),(299.8,3.84),(331.6,3.81),(343.9,3.76),(283.5,3.65),(288.2,3.63),(287.8,3.6),(282.9,3.55),(283.1,3.33),(283.4,3.15),(325.8,3.28),(303.4,3.04),(340,2.94),(357.9,2.98),(311.3,2.91),(326.1,2.83),(281.2,2.79),(282.1,2.79),(324,2.72),(344.1,2.74),(348.9,2.6),(292.6,2.5),(294.8,2.43),(296.1,2.44),(297.1,2.51),(312,2.53),(315.2,2.49),(338.8,2.51),(355.8,2.36),(281.4,2.4),(282.1,2.4),(312.9,2.37),(312.9,2.2),(316.1,2.23),(277.9,2.23),(281.9,2.16),(323.7,2.06),(340.9,2.19),(336.7,2.13),(346.2,2.02),(282.6,2),(285.8,1.98),(293.4,2),(305.9,1.98),(308,2.02),(309.5,1.94),(349.9,1.89),(325.5,1.85),(316.3,1.82),(305.3,1.78),(305.7,1.72),(340.5,1.89),(341.6,1.82),(352.7,1.75),(288.2,1.67),(342.9,1.67),(281.2,1.62),(282.6,1.6),(296,1.43),(297.2,1.37),(296.1,1.28),(294.5,1.34),(307,1.36),(316.6,1.36),(319.1,1.44),(321.4,1.4),(336.7,1.36),(341.7,1.41),(340.5,1.37),(344.4,1.31),(348.2,1.34),(316.5,1.17),(358.1,1.22),(283.4,1.14),(346.1,1.13),(350.6,0.99),(351.1,0.82),(351.1,0.6),(340.2,1.17),(286.3,0.92),(288.2,0.95),(289.7,0.92),(291.9,1),(304.1,1),(308.7,0.95),(322.2,0.97),(319.5,0.85),(340.9,0.92),(284.1,0.72),(286.9,0.76),(289.1,0.69),(325.2,0.78),(339.8,0.72),(335.4,0.6),(293.9,0.6),(301.7,0.6),(313.2,0.6),(324.3,0.49),(330.8,0.55),(279.6,0.53),(281.7,0.6),(280.1,0.47),(289.6,0.54),(347.2,0.49),(296.5,0.33),(291.1,0.3),(286,0.34),(317.2,0.49),(322.2,0.29),(315,0.26),(316.5,0.15),(324.3,0.2),(324,0.06),(334.5,0.06),(339.6,0.2),(340.5,0.2),(341.4,0.34),(352.6,0.35),(356.1,0.08),(354.7,0.01),(358.2,0.35),(303.9,0),(289.6,0),
    (282.6,-0.59),(284.1,-0.79),(279.7,-0.95),(280.5,-1.09),(278.9,-1.3),(284.1,-1.44),(280.3,-1.82),(284.7,-1.84),(279.4,-2.36),(278.9,-3.08),(278,-3.42),(283.3,-3.22),(283.8,-3.52),(282.6,-3.79),(282.8,-4.34),(282.6,-4.58),(280.9,-4.52),(283.9,-4.79),(284.9,-4.93),(280.3,-5.04),(278.8,-5.86),(277.3,-6.14),(282.2,-6.13),(282.8,-6.09),(284.2,-6.03),(285.6,-6.1),(285.2,-6.64),(285.3,-6.31),(282.9,-7.61),(282.5,-9.62),(285.6,-9.86),(282.6,-11.3),(283.5,-11.57),(282.6,-11.81),(284.6,-13.09),(284.5,-14.41),(289.1,-0.48),(290.9,0.31),(289.6,0.04),(289.2,-0.71),(288.6,-0.99),(290.8,-1.16),(292.2,-1.75),(288.6,-2),(289.4,-1.86),(290.9,-2.08),(293.2,-2.36),(294.5,-2.43),(288.5,-2.5),(288.5,-2.66),(286.4,-2.9),(291.9,-3.02),(295.9,-2.78),(295.2,-3.06),(294,-3.25),(289.3,-3.45),(290.9,-3.45),(291.6,-3.5),(289.4,-3.77),(289.4,-3.94),(290.8,-3.84),(293.8,-3.91),(295.6,-3.87),(296.8,-3.95),(289.5,-4.36),(296.4,-4.34),(289.6,-4.97),(290.1,-4.97),(296,-4.89),(289,-5.32),(290.9,-5.3),(291,-5.44),(291.9,-5.51),(296,-5.9),(293.2,-6.45),(297.8,-6.43),(298.2,-6.53),(295.6,-7.1),(293.1,-7.94),(293.7,-8.08),(290.7,-8.56),(292.7,-8.5),(293.1,-8.7),(291.6,-9.55),(289.6,-10.93),(288.8,-11.2),(291.4,-11.92),(291.9,-12.75),(289.2,-15.72),(287.2,-18.32),(296,-0.8),(296.4,-1.09),(299.8,-0.85),(302.7,-1.79),(298.2,-1.91),(298.2,-2.08),(297.1,-2.31),(300.1,-2.2),(304.1,-0.99),(305.8,-2.32),(308.4,-2.23),(309.8,-1.84),(308.7,-1.4),(307.7,-2.88),(305.9,-3.18),(306.5,-3.38),(305.8,-3.93),(310.6,-2.99),(310.6,-3.18),(312.1,-2.82),(312.5,-3.14),(315.5,-2.99),(313.3,-3.52),(315.5,-3.46),(318.7,-2.75),(319.1,-2.9),(320.3,-3.14),(318.9,-3.35),(311.9,-4.12),(312.9,-4.19),(313.6,-4.25),(315.5,-4.34),(318.4,-4.43),(302.7,-4.66),(303.9,-5.44),(312.7,-5.54),(318.4,-5.52),(315.2,-5.76),(313.3,-6.07),(312.2,-6.21),(310.7,-6.24),(309.2,-6.53),(317.2,-6.05),(312.5,-7.03),(308.8,-7.32),(316.8,-7.29),(321.2,-7.03),(311.7,-8.23),(309.9,-8.76),(317.3,-8.6),(317,-8.84),(320.1,-8.64),(313.4,-9.63),(316.2,-9.79),(316.9,-14.56),(317,-16.1),(306.8,-19.9),
    (320.1,-0.88),(317.2,-1.13),(317.2,-1.41),(318.9,-1.75),(323,-1.19),(325.4,-1.2),(325.6,-0.78),(328,-0.79),(325.4,-2),(324,-0.38),(325.2,-2.66),(324,-2.95),(324.2,-3.11),(329.5,-3.23),(331.6,-3.04),(331.3,-2.32),(336.1,-2.75),(336.1,-0.42),(324,-3.84),(325.6,-4.12),(325.2,-4.19),(330.9,-4.1),(334.3,-3.7),(322.7,-4.46),(321.6,-4.77),(322.7,-4.77),(323.8,-4.66),(325,-4.83),(330.5,-4.9),(336.3,-5.48),(338.7,-5.44),(331.4,-5.72),(325,-5.68),(328.3,-6.07),(325,-6.31),(325.7,-6.79),(336.7,-6.71),(330.2,-7.2),(323.8,-7.44),(324.8,-7.72),(337.9,-8.11),(341,-7.37),(343,-7.54),(349,-7.33),(341,-8.63),(348,-8.05),(351.4,-6.58),(323.5,-8.97),(323.9,-9.11),(344.9,-9.73),(351.1,-10.37),(358.5,-9.76),(325.3,-10.99),(330,-11.67),(324.1,-11.81),(324,-11.93),(340.2,-11.99),(334.6,-12.63),(341,-13.59),(325,-14.53),(336.1,-14.55),(331.2,-14.99),(351.2,-14.96),(348.7,-15.03),(347.4,-15.21),(334.5,-15.3),(327.4,-15.82),(346.5,-15.82),(331.2,-16.2),(331.2,-16.41),(355.4,-16.84),(342.9,-17.51),(348.2,-17.99),(340.9,-18.2),(325.3,-19.14),(331.7,-19.42),(338,-0.52),(339.5,-0.52),(340.4,-0.62),(341.4,-0.66),(340.9,-0.8),(340.2,-0.9),(348,-1.16),(339.5,-1.51),(340.4,-1.27),(351.4,-1.44),(352.7,-1.58),(344.8,-1.91),(340.4,-2.08),(341.4,-2.22),(342.1,-2.19),(338.8,-2),(341.1,-2.4),(343.6,-2.66),(345.9,-2.43),(351.3,-3.14),(352.7,-2.75),(352.7,-3.35),(357.5,-3.31),(339.7,-2.92),(340,-3.11),(340.1,-3.31),(339,-3.45),(341.7,-3.32),(340.9,-3.79),(342.9,-3.91),(344.3,-3.95),(343.4,-4.1),(341.6,-4.19),(339.6,-4.27),(346.5,-3.73),(347.9,-3.87),(349.9,-4.24),(341,-4.63),(346.8,-4.86),(347.8,-5.1),(348,-5.4),(349.2,-5.73),(355.4,-7.09),(349.3,-0.38),(347.5,-0.38)]

pts_moss = [(151.8,13.8),(151.9,11.77),(153.7,8.47),(153.3,7.23),(151.1,5.9),(155,5.03),(153.6,4.75),(154,4.73),(154.4,4.41),(155.9,4.03),(153.6,3.42),(203,2.78),(154.7,2.68),(150.6,2.09),(153,2.02),(147.3,1.33),(222.9,0.68),(153.6,0.08),
    (146.1,-2.12),(151.2,-0.45),(153.1,-1.06),(153.7,-1.07),(151.8,-1.37),(153.1,-1.36),(150.2,-1.58),(150.6,-1.91),(151.2,-2.22),(154.3,-1.72),(155.9,-1.58),(157.2,-2.18),(155.3,-3.05),(153.6,-3.32),(151.9,-3.53),(152.9,-3.55),(154.8,-3.63),(155.7,-3.81),(157.4,-4.15),(151.1,-4.48),(153,-4.48),(150.7,-4.68),(153.1,-4.69),(151.9,-4.76),(143.5,-4.83),(160.5,-4.75),(150.2,-5.27),(151.6,-5.28),(152.9,-5.32),(153.3,-5.44),(148.7,-5.52),(222.4,-0.8),(219.6,-3.02),(220.1,-3),(218.9,-5.97),(154,-7.64),(148.4,-7.85),(153.1,-7.95),(153,-8.33),(152.7,-8.7),(148.7,-10.23),(148.6,-10.75),(151.8,-12.39),(151.9,-14.17),(218.9,-12.84)]

pts_green = [(5.6,3.03),(84.3,1.7),(165.2,8.74),(216.5,7.6),(216.2,7.56),(161.8,4.69),(148.6,2.23),(157.4,1.47),(162.8,0.11),(163.2,-1.84),(166.6,-1.33),(219.8,-9.99)]

pts_teal = [(88.1,-2.19),(99,-3.08),(108.1,-3.98),(306,0.63),(306,0.33),(301,0.26),(300.3,0.26),(305.4,0.13),(305.9,-0.95),(306.3,-1.2),(306.1,-1.58)]

pts_pale = [(18.6,-2.57)]

# distance given to each group of picks
groups = [(pts_pale, 165), (pts_teal, 128), (pts_green, 108), (pts_moss, 94), (pts_olive, 84),
          (pts_umber, 71), (pts_brown, 62), (pts_rust, 48), (pts_red, 32), (pts_purple, 8)]

cbar_stops = [0, 30, 45, 60, 75, 90, 105, 120, 135, 150, 165, 180]
cbar_cols = ['#35143a', '#571c22', '#722d08', '#74400a', '#705604', '#6e6a2a', '#637f50', '#5a8a78', '#66a0a0', '#8cb2c8', '#b0bfe0', '#d9d2fb']

xmajor = np.arange(0, 361, 20)
xminor = np.arange(0, 361, 10)
ymajor = np.arange(-20, 21, 5)
yminor = np.arange(-20, 21, 1)
zero_az = np.arange(0.3, 180, 3.6)

W, H = 1607, 1169
fig = plt.figure(figsize=(W/100, H/100), dpi=100)
ax = fig.add_axes([136/W, 1-1058/H, 1240/W, 944/H])

cmap = colors.LinearSegmentedColormap.from_list('dist', [(s/180, c) for s, c in zip(cbar_stops, cbar_cols)], N=256)
norm = colors.Normalize(0, 180)

ax.plot(zero_az, np.zeros_like(zero_az), color='#8f8f8f', lw=0.7, marker='s', ms=2, mfc='#6f6f6f', mec='none', zorder=1)
for pts, dist in groups:
    a = np.array(pts).T
    ax.scatter(a[0], a[1], c=np.full(a.shape[1], dist), cmap=cmap, norm=norm, s=4, linewidths=0, zorder=2)
ax.scatter(bin_az, bin_res, color='#3eddf5', s=28, linewidths=0, zorder=3)

ax.set_xlim(0, 360)
ax.set_ylim(-20, 20)
ax.set_xticks(xmajor)
ax.set_xticks(xminor, minor=True)
ax.set_yticks(ymajor)
ax.set_yticks(yminor, minor=True)
ax.tick_params(which='major', length=9, width=0.8, direction='out', top=True, right=True, labelsize=24, pad=8)
ax.tick_params(which='minor', length=4.7, width=0.8, direction='out', top=True, right=True)
for s in ax.spines.values():
    s.set_linewidth(1.8)

fig.text(755/W, 1-21/H, 'Phase Residuals by azimuth to the event (S Sn Sg Sb)', fontsize=30, ha='center', va='center')
fig.text(755/W, 1-1152/H, 'Station to event azimuth (degrees)', fontsize=24, ha='center', va='center')
fig.text(18/W, 1-586/H, 'Residual (seconds)', fontsize=24, rotation=90, ha='center', va='center')

cax = fig.add_axes([1434/W, 1-822/H, 45/W, 472/H])
cb = fig.colorbar(ScalarMappable(norm=norm, cmap=cmap), cax=cax)
cb.set_ticks(np.arange(0, 181, 30))
cb.outline.set_linewidth(1.6)
cax.tick_params(length=8.6, width=0.8, labelsize=24, pad=49)
for t in cax.get_yticklabels():
    t.set_ha('right')
fig.text(1590/W, 1-586/H, 'Distance (degrees)', fontsize=24, rotation=90, ha='center', va='center')

fig.savefig('out.png', dpi=100)
